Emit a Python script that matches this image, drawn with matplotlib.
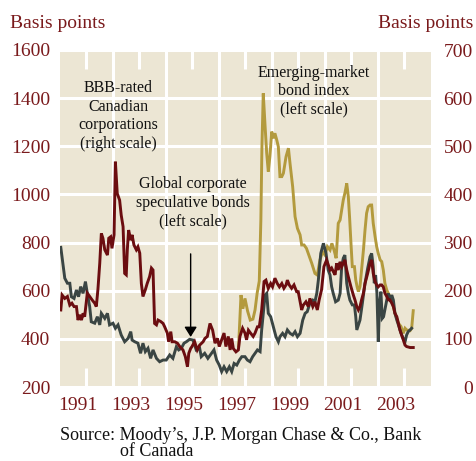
import matplotlib
matplotlib.use('Agg')
import matplotlib.pyplot as plt
import matplotlib.transforms as mtransforms

plt.rcParams['font.family'] = ['Liberation Serif', 'DejaVu Serif']

# ---------------- data ----------------
spec_t = [1990.03, 1990.18, 1990.28, 1990.37, 1990.43, 1990.53, 1990.62, 1990.70, 1990.78, 1990.87,
          1990.96, 1991.03, 1991.12, 1991.18, 1991.31, 1991.41, 1991.50, 1991.56, 1991.69, 1991.79,
          1991.87, 1992.00, 1992.09, 1992.19, 1992.31, 1992.44, 1992.57, 1992.67, 1992.72, 1992.82,
          1992.94, 1993.04, 1993.13, 1993.22, 1993.32, 1993.42, 1993.51, 1993.64, 1993.76, 1993.89,
          1994.01, 1994.14, 1994.26, 1994.39, 1994.48, 1994.58, 1994.68, 1994.77, 1994.89, 1995.02,
          1995.14, 1995.27, 1995.33, 1995.46, 1995.58, 1995.72, 1995.81, 1995.91, 1996.01, 1996.10,
          1996.19, 1996.29, 1996.39, 1996.48, 1996.57, 1996.67, 1996.77, 1996.86, 1996.98, 1997.07,
          1997.17, 1997.27, 1997.36, 1997.45, 1997.55, 1997.61, 1997.67, 1997.74, 1997.80, 1997.86,
          1997.95, 1998.05, 1998.15, 1998.24, 1998.30, 1998.40, 1998.49, 1998.58, 1998.68, 1998.78,
          1998.87, 1998.96, 1999.06, 1999.16, 1999.25, 1999.33, 1999.43, 1999.54, 1999.62, 1999.69,
          1999.75, 1999.84, 1999.94, 2000.04, 2000.12, 2000.19, 2000.25, 2000.31, 2000.40, 2000.50,
          2000.57, 2000.63, 2000.69, 2000.75, 2000.82, 2000.88, 2000.94, 2001.03, 2001.11, 2001.16,
          2001.20, 2001.26, 2001.32, 2001.41, 2001.51, 2001.61, 2001.70, 2001.76, 2001.82, 2001.86,
          2001.91, 2001.96, 2002.01, 2002.06, 2002.11, 2002.16, 2002.21, 2002.26, 2002.33, 2002.39,
          2002.45, 2002.52, 2002.58, 2002.64, 2002.71, 2002.77, 2002.87, 2002.95, 2003.02, 2003.08,
          2003.14, 2003.21, 2003.27]
spec_v = [780, 652, 631, 631, 575, 568, 603, 575, 617, 589,
          638, 589, 534, 471, 465, 492, 458, 506, 485, 506,
          458, 465, 444, 458, 416, 388, 402, 430, 395, 388,
          382, 340, 382, 347, 361, 319, 354, 319, 305, 312,
          312, 333, 319, 367, 354, 361, 382, 388, 398, 395,
          354, 361, 326, 340, 319, 340, 354, 312, 291, 264,
          284, 264, 284, 264, 298, 291, 312, 326, 326, 312,
          305, 326, 340, 354, 347, 437, 506, 582, 589, 506,
          492, 451, 409, 388, 409, 423, 409, 437, 423, 416,
          430, 409, 423, 478, 506, 513, 548, 561, 554, 589,
          645, 755, 797, 755, 686, 665, 617, 589, 554, 561,
          589, 700, 735, 748, 631, 589, 561, 541, 541, 492,
          437, 458, 478, 548, 631, 693, 741, 755, 700, 631,
          665, 589, 388, 548, 596, 485, 492, 520, 561, 589,
          561, 582, 561, 506, 478, 458, 423, 402, 388, 416,
          430, 437, 444]

bbb_t = [1990.03, 1990.08, 1990.18, 1990.28, 1990.37, 1990.45, 1990.53, 1990.62, 1990.68, 1990.74,
         1990.81, 1990.87, 1990.93, 1991.03, 1991.12, 1991.21, 1991.31, 1991.37, 1991.43, 1991.50,
         1991.56, 1991.62, 1991.69, 1991.79, 1991.84, 1991.91, 1991.96, 1992.04, 1992.09, 1992.16,
         1992.25, 1992.31, 1992.38, 1992.44, 1992.50, 1992.54, 1992.59, 1992.67, 1992.72, 1992.79,
         1992.88, 1992.94, 1993.01, 1993.07, 1993.13, 1993.22, 1993.29, 1993.38, 1993.45, 1993.51,
         1993.57, 1993.64, 1993.70, 1993.80, 1993.89, 1993.95, 1994.05, 1994.10, 1994.18, 1994.23,
         1994.33, 1994.43, 1994.52, 1994.64, 1994.73, 1994.81, 1994.86, 1994.93, 1994.98, 1995.08,
         1995.18, 1995.27, 1995.40, 1995.47, 1995.56, 1995.66, 1995.76, 1995.85, 1995.94, 1996.01,
         1996.10, 1996.19, 1996.26, 1996.35, 1996.42, 1996.48, 1996.54, 1996.64, 1996.73, 1996.79,
         1996.89, 1996.98, 1997.04, 1997.11, 1997.19, 1997.29, 1997.36, 1997.45, 1997.52, 1997.61,
         1997.70, 1997.77, 1997.86, 1997.95, 1998.02, 1998.11, 1998.20, 1998.28, 1998.37, 1998.45,
         1998.53, 1998.58, 1998.65, 1998.74, 1998.83, 1998.93, 1998.99, 1999.06, 1999.12, 1999.18,
         1999.28, 1999.37, 1999.43, 1999.54, 1999.62, 1999.71, 1999.78, 1999.87, 1999.96, 2000.06,
         2000.19, 2000.25, 2000.31, 2000.38, 2000.44, 2000.50, 2000.57, 2000.63, 2000.69, 2000.75,
         2000.82, 2000.88, 2000.98, 2001.07, 2001.13, 2001.20, 2001.26, 2001.32, 2001.38, 2001.45,
         2001.51, 2001.61, 2001.70, 2001.76, 2001.82, 2001.89, 2001.95, 2002.01, 2002.08, 2002.14,
         2002.20, 2002.26, 2002.33, 2002.39, 2002.45, 2002.52, 2002.58, 2002.64, 2002.71, 2002.77,
         2002.83, 2002.89, 2002.95, 2003.02, 2003.08, 2003.21, 2003.33]
bbb_v = [160, 191, 184, 188, 170, 174, 167, 167, 139, 150,
         139, 153, 146, 195, 188, 181, 174, 167, 202, 257,
         319, 309, 285, 274, 309, 312, 288, 316, 468, 402,
         388, 357, 333, 236, 233, 285, 326, 305, 316, 295,
         285, 291, 278, 215, 188, 202, 215, 229, 247, 243,
         132, 129, 139, 136, 132, 125, 112, 94, 115, 94,
         94, 91, 84, 77, 63, 42, 70, 80, 84, 94,
         77, 87, 94, 101, 105, 132, 118, 91, 101, 84,
         98, 112, 84, 105, 77, 101, 80, 73, 77, 105,
         122, 112, 98, 118, 112, 105, 112, 125, 125, 160,
         219, 222, 205, 215, 208, 226, 215, 208, 215, 205,
         212, 222, 212, 205, 212, 198, 198, 177, 160, 170,
         177, 167, 184, 167, 177, 160, 181, 202, 250, 264,
         243, 247, 240, 233, 257, 243, 260, 250, 257, 264,
         243, 229, 208, 191, 181, 167, 160, 167, 181, 195,
         215, 236, 257, 264, 236, 219, 212, 208, 212, 212,
         208, 195, 188, 181, 181, 174, 167, 153, 146, 132,
         118, 108, 98, 87, 84, 82, 82]

emb_t = [1996.74, 1996.83, 1996.90, 1996.98, 1997.08, 1997.18, 1997.28, 1997.36, 1997.44, 1997.52,
         1997.58, 1997.62, 1997.67, 1997.74, 1997.80, 1997.86, 1997.92, 1997.99, 1998.05, 1998.11,
         1998.18, 1998.24, 1998.30, 1998.37, 1998.43, 1998.53, 1998.62, 1998.68, 1998.78, 1998.87,
         1998.96, 1999.06, 1999.12, 1999.21, 1999.30, 1999.40, 1999.50, 1999.62, 1999.71, 1999.81,
         1999.91, 2000.00, 2000.09, 2000.19, 2000.26, 2000.34, 2000.42, 2000.50, 2000.57, 2000.69,
         2000.76, 2000.82, 2000.88, 2000.93, 2000.98, 2001.03, 2001.11, 2001.16, 2001.21, 2001.26,
         2001.32, 2001.38, 2001.45, 2001.51, 2001.57, 2001.63, 2001.70, 2001.76, 2001.82, 2001.89,
         2001.95, 2002.01, 2002.08, 2002.14, 2002.20, 2002.26, 2002.33, 2002.39, 2002.52, 2002.64,
         2002.77, 2002.87, 2002.95, 2003.02, 2003.08, 2003.21, 2003.27, 2003.33]
emb_v = [370, 582, 525, 568, 515, 478, 482, 520, 590, 640,
         894, 1198, 1420, 1282, 1171, 1095, 1157, 1261, 1233, 1254,
         1226, 1198, 1074, 1074, 1088, 1157, 1192, 1129, 1032, 908,
         859, 832, 790, 790, 776, 745, 714, 672, 665, 728,
         762, 748, 783, 769, 797, 769, 735, 880, 894, 977,
         1010, 1046, 991, 900, 797, 700, 700, 645, 617, 596,
         617, 686, 769, 852, 922, 949, 956, 956, 880, 825,
         783, 755, 728, 721, 686, 631, 603, 589, 561, 506,
         465, 451, 423, 444, 437, 434, 444, 517]

year_labels = ['1991', '1993', '1995', '1997', '1999', '2001', '2003']
left_ticks = [200, 400, 600, 800, 1000, 1200, 1400, 1600]
right_ticks = [0, 100, 200, 300, 400, 500, 600, 700]

# ---------------- style ----------------
RED_TXT = '#7A1A1C'
C_BBB = '#6B0D10'
C_SPEC = '#3A4543'
C_EMB = '#B39A3D'
BG = '#ECE6D4'

W, H = 477, 461
fig = plt.figure(figsize=(W / 100, H / 100), dpi=100)
ax = fig.add_axes([60 / W, 1 - 387 / H, 371 / W, 337 / H])
ax.set_facecolor(BG)
ax.set_xlim(1990, 2004)
ax.set_ylim(200, 1600)
for s in ax.spines.values():
    s.set_visible(False)
ax.set_axisbelow(True)

# y grid
ax.set_yticks(left_ticks)
ax.yaxis.grid(True, color='white', lw=2.2)
ax.tick_params(axis='y', length=0, labelcolor=RED_TXT, labelsize=14, pad=7)

# x ticks: odd years labelled with short white ticks, even years full white lines
odd_years = [int(y) for y in year_labels]
ax.set_xticks(odd_years)
ax.set_xticklabels(year_labels)
ax.set_xticks([y + 1 for y in odd_years[:-1]], minor=True)
ax.xaxis.grid(True, which='minor', color='white', lw=2.2)
ax.xaxis.grid(False, which='major')
ax.tick_params(axis='x', which='major', direction='in', length=14, width=2.2,
               color='white', top=True, bottom=True, labelcolor=RED_TXT,
               labelsize=14, pad=7)
ax.tick_params(axis='x', which='minor', length=0)
offset = mtransforms.ScaledTranslation(-9 / 100, 0, fig.dpi_scale_trans)
for lbl in ax.get_xticklabels():
    lbl.set_transform(lbl.get_transform() + offset)

ax.plot(emb_t, emb_v, color=C_EMB, lw=2.1, solid_joinstyle='miter', zorder=3)
ax.plot(spec_t, spec_v, color=C_SPEC, lw=2.1, solid_joinstyle='miter', zorder=4)

ax2 = ax.twinx()
ax2.set_ylim(0, 700)
ax2.set_yticks(right_ticks)
ax2.patch.set_visible(False)
for s in ax2.spines.values():
    s.set_visible(False)
ax2.tick_params(axis='y', length=0, labelcolor=RED_TXT, labelsize=14, pad=30)
for lbl in ax2.get_yticklabels():
    lbl.set_horizontalalignment('right')
ax2.plot(bbb_t, bbb_v, color=C_BBB, lw=2.1, solid_joinstyle='miter', zorder=3)

# annotations
tkw = dict(ha='center', va='center', fontsize=11.5, color='#111111', linespacing=1.2)
ax.text(1992.19, 1326, 'BBB-rated\nCanadian\ncorporations\n(right scale)', **tkw)
ax.text(1995.02, 965, 'Global corporate\nspeculative bonds\n(left scale)', **tkw)
ax.text(1999.58, 1430, 'Emerging-market\nbond index\n(left scale)', **tkw)
ax.annotate('', xy=(1994.93, 408), xytext=(1994.93, 753),
            arrowprops=dict(arrowstyle='-|>,head_length=0.4,head_width=0.25',
                            color='black', lw=1.0, mutation_scale=15,
                            shrinkA=0, shrinkB=0), zorder=6)

fig.text(10 / W, 1 - 28 / H, 'Basis points', ha='left', va='baseline',
         color=RED_TXT, fontsize=14)
fig.text(473 / W, 1 - 28 / H, 'Basis points', ha='right', va='baseline',
         color=RED_TXT, fontsize=14)

fig.text(60 / W, 1 - 440 / H, 'Source: Moody\u2019s, J.P. Morgan Chase & Co., Bank',
         ha='left', va='baseline', fontsize=13, color='#111111')
fig.text(120 / W, 1 - 456 / H, 'of Canada', ha='left', va='baseline',
         fontsize=13, color='#111111')

fig.savefig('out.png', dpi=100)
